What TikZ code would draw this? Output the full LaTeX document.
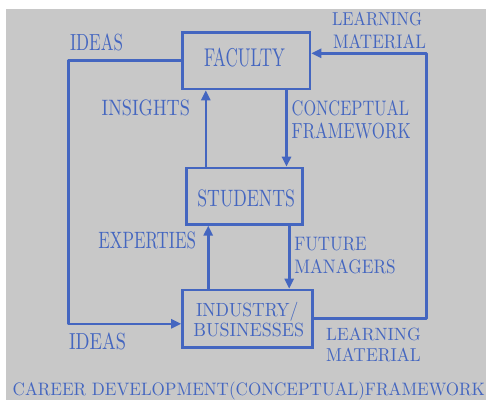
\documentclass[tikz,border=0pt]{standalone}
\usepackage{graphicx}
\usetikzlibrary{arrows.meta}
\definecolor{bgray}{RGB}{200,200,200}
\definecolor{myblue}{RGB}{68,102,192}
\newcommand{\lblfont}{\rmfamily}
\newcommand{\fitlbl}[3]{\resizebox{#1pt}{#2pt}{\lblfont #3}}
\tikzset{
  txt/.style={inner sep=0pt, outer sep=0pt, anchor=base west, text=myblue, font=\lblfont},
  box/.style={draw=myblue, line width=2.6pt, inner sep=0pt},
  conn/.style={draw=myblue, line width=2.6pt, line join=round},
  arr/.style={conn, -{Triangle[length=10pt,width=9pt]}}
}
\begin{document}
\begin{tikzpicture}[x=1pt,y=-1pt]
\useasboundingbox (0,0) rectangle (486,400);
\fill[white] (0,0) rectangle (486,400);
\fill[bgray] (6,9) rectangle (486,400);

% boxes
\node[box, minimum width=127.5pt, minimum height=56.5pt] (faculty) at (246.25,60.75) {};
\node[box, minimum width=116pt, minimum height=56.3pt] (students) at (244.3,196.15) {};
\node[box, minimum width=129.8pt, minimum height=57.3pt] (industry) at (247.4,318.65) {};

% helper coordinates
\coordinate (lc) at (68.5,323.8);
\coordinate (rc) at (426.2,53.3);
\coordinate (xi) at (205.8,0);
\coordinate (xc) at (286.5,0);
\coordinate (xe) at (208.2,0);
\coordinate (xf) at (289.2,0);

% connectors
\draw[arr] (faculty.west) -| (lc) -- (lc -| industry.west);
\draw[arr] (industry.east) -| (rc) -- (rc -| faculty.east);
\draw[arr] (students.north -| xi) -- (faculty.south -| xi);
\draw[arr] (faculty.south -| xc) -- (students.north -| xc);
\draw[arr] (industry.north -| xe) -- (students.south -| xe);
\draw[arr] (students.south -| xf) -- (industry.north -| xf);

% texts
\node[txt] (tfac) at (204,66.7) {\fitlbl{81}{18.4}{FACULTY}};
\node[txt] (tstu) at (197.3,206) {\fitlbl{97.7}{16.7}{STUDENTS}};
\node[txt] (tind1) at (196,316) {\fitlbl{102.3}{14.3}{INDUSTRY/}};
\node[txt] (tind2) at (193.3,336.7) {\fitlbl{110.7}{13.4}{BUSINESSES}};

\node[txt] (lm1a) at (332,25.7) {\fitlbl{90}{13.4}{LEARNING}};
\node[txt] (lm1b) at (333,48.3) {\fitlbl{93}{14}{MATERIAL}};
\node[txt] (ideas1) at (70,50.7) {\fitlbl{53}{16.7}{IDEAS}};
\node[txt] (ins) at (101.7,115) {\fitlbl{88.3}{15.7}{INSIGHTS}};
\node[txt] (cf1) at (291.7,115) {\fitlbl{117.3}{15}{CONCEPTUAL}};
\node[txt] (cf2) at (291.7,138.3) {\fitlbl{119}{15.6}{FRAMEWORK}};
\node[txt] (exp) at (98.3,248.3) {\fitlbl{97.7}{16.7}{EXPERTIES}};
\node[txt] (fm1) at (294.3,250) {\fitlbl{72.4}{13.3}{FUTURE}};
\node[txt] (fm2) at (294.3,273.3) {\fitlbl{101.4}{14}{MANAGERS}};
\node[txt] (ideas2) at (69,349.3) {\fitlbl{57}{16.6}{IDEAS}};
\node[txt] (lm2a) at (326,340) {\fitlbl{94.7}{12.7}{LEARNING}};
\node[txt] (lm2b) at (326,361.7) {\fitlbl{94.7}{13.4}{MATERIAL}};
\node[txt] (title) at (12.7,395.5) {\fitlbl{472.3}{13.5}{CAREER DEVELOPMENT(CONCEPTUAL)FRAMEWORK}};
\end{tikzpicture}
\end{document}
